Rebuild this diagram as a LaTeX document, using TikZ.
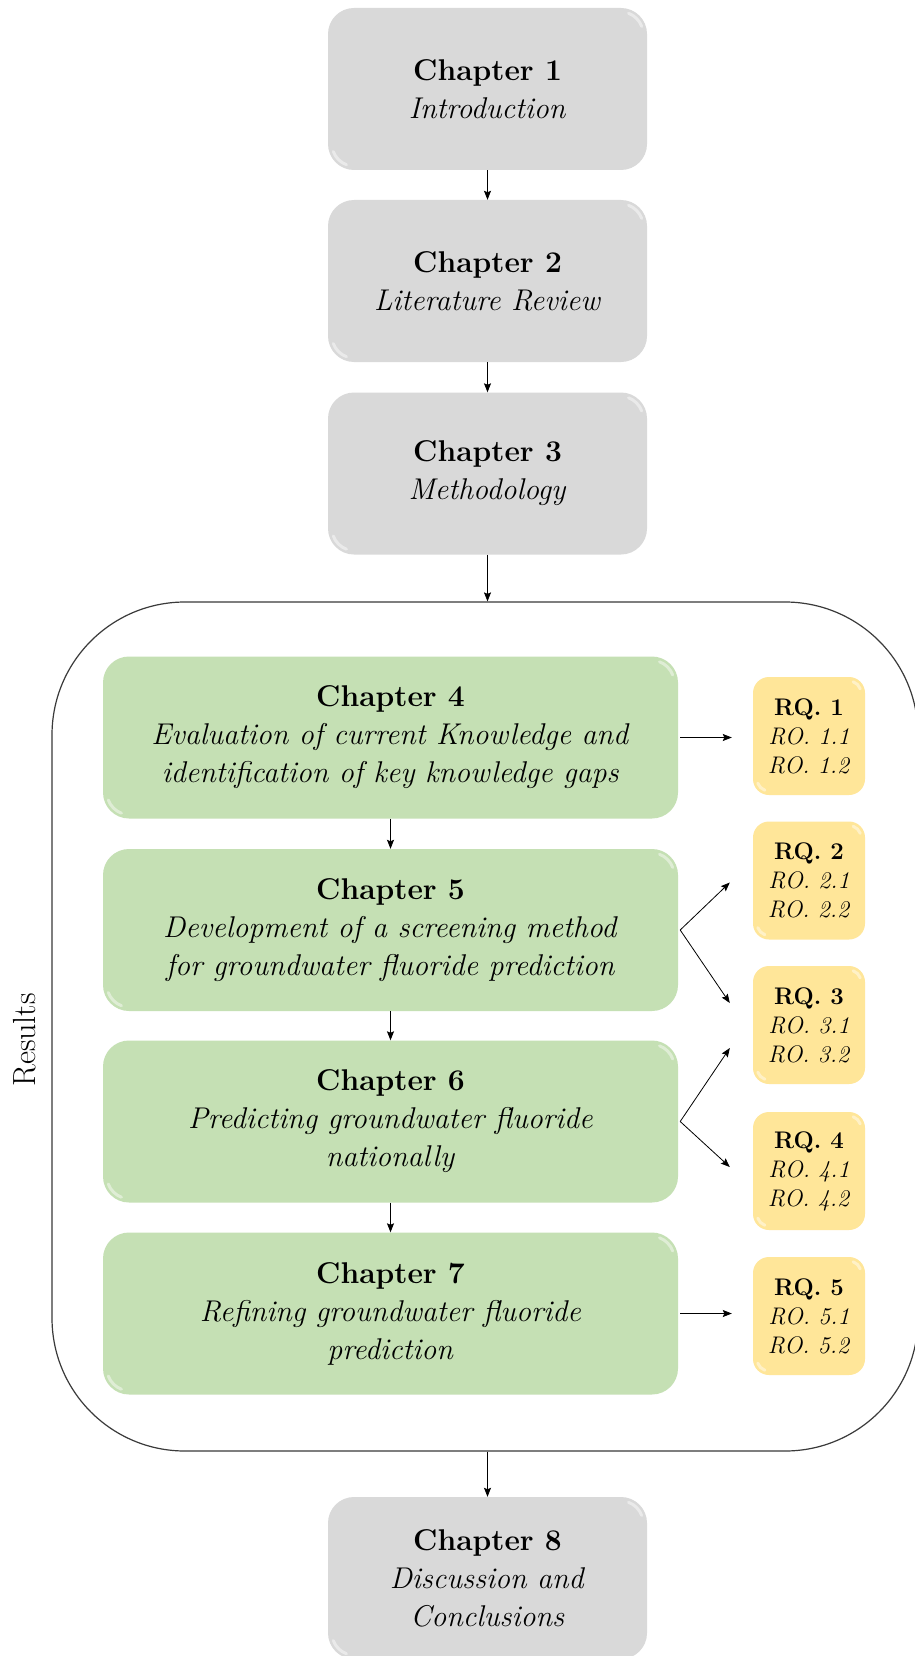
\documentclass[tikz,border=0pt]{standalone}
\usepackage{fontspec}
\usetikzlibrary{arrows.meta}
\definecolor{chgray}{HTML}{D9D9D9}
\definecolor{chgreen}{HTML}{C5E0B4}
\definecolor{rqyellow}{HTML}{FFE699}
\definecolor{framegray}{HTML}{3A3A3A}
\tikzset{
  bevel/.style={path picture={
    \draw[x=1pt,y=1pt,white,opacity=.45,line width=3pt,line cap=round]
      ([xshift=-#1pt,yshift=-#1pt]path picture bounding box.north east)
      ++(70:#1-4) arc[start angle=70,end angle=20,radius=#1-4];
    \draw[x=1pt,y=1pt,white,opacity=.45,line width=3pt,line cap=round]
      ([xshift=#1pt,yshift=#1pt]path picture bounding box.south west)
      ++(250:#1-4) arc[start angle=250,end angle=200,radius=#1-4];
  }},
  chapfont/.style={font=\fontsize{30}{38}\selectfont},
  chbox/.style={rectangle, rounded corners=26pt, minimum height=162pt,
    align=center, inner sep=0pt, chapfont, bevel=26},
  graybox/.style={chbox, fill=chgray, minimum width=319pt},
  greenbox/.style={chbox, fill=chgreen, minimum width=575pt},
  rqbox/.style={rectangle, rounded corners=16pt, fill=rqyellow,
    minimum width=112pt, minimum height=118pt, inner sep=0pt, align=center,
    font=\fontsize{24}{29}\selectfont, bevel=16},
  arr/.style={-{Stealth[length=9pt,width=7pt,inset=1.5pt]}, line width=0.8pt, black},
  framebox/.style={rectangle, draw=framegray, line width=1.2pt,
    rounded corners=133pt, inner sep=0pt},
}
\begin{document}
\begin{tikzpicture}[x=1pt,y=-1pt]
\useasboundingbox (0,0) rectangle (914,1656);
\fill[white] (0,0) rectangle (914,1656);

% big frame
\node[framebox, minimum width=866pt, minimum height=849pt] (frame) at (485,1026.5) {};
\node[font=\fontsize{32}{38}\selectfont, rotate=90] (res) at (25,1040) {Results};

% gray chapters
\node[graybox] (c1) at (487.5,89) {\textbf{Chapter 1}\\\textit{Introduction}};
\node[graybox] (c2) at (487.5,281) {\textbf{Chapter 2}\\\textit{Literature Review}};
\node[graybox] (c3) at (487.5,473.5) {\textbf{Chapter 3}\\\textit{Methodology}};
\node[graybox] (c8) at (487.5,1578) {\textbf{Chapter 8}\\\textit{Discussion and}\\\textit{Conclusions}};

% green chapters
\node[greenbox] (c4) at (390.5,737.5) {\textbf{Chapter 4}\\\textit{Evaluation of current Knowledge and}\\\textit{identification of key knowledge gaps}};
\node[greenbox] (c5) at (390.5,930) {\textbf{Chapter 5}\\\textit{Development of a screening method}\\\textit{for groundwater fluoride prediction}};
\node[greenbox] (c6) at (390.5,1121.5) {\textbf{Chapter 6}\\\textit{Predicting groundwater fluoride}\\\textit{nationally}};
\node[greenbox] (c7) at (390.5,1313.5) {\textbf{Chapter 7}\\\textit{Refining groundwater fluoride}\\\textit{prediction}};

% research questions
\node[rqbox] (rq1) at (809,736) {\textbf{RQ. 1}\\\textit{RO. 1.1}\\\textit{RO. 1.2}};
\node[rqbox] (rq2) at (809,880.5) {\textbf{RQ. 2}\\\textit{RO. 2.1}\\\textit{RO. 2.2}};
\node[rqbox] (rq3) at (809,1025) {\textbf{RQ. 3}\\\textit{RO. 3.1}\\\textit{RO. 3.2}};
\node[rqbox] (rq4) at (809,1171) {\textbf{RQ. 4}\\\textit{RO. 4.1}\\\textit{RO. 4.2}};
\node[rqbox] (rq5) at (809,1316) {\textbf{RQ. 5}\\\textit{RO. 5.1}\\\textit{RO. 5.2}};

% vertical connectors
\draw[arr] (c1.south) -- (c2.north);
\draw[arr] (c2.south) -- (c3.north);
\draw[arr] (c3.south) -- (c3.south |- frame.north);
\draw[arr] (c4.south) -- (c5.north);
\draw[arr] (c5.south) -- (c6.north);
\draw[arr] (c6.south) -- (c7.north);
\draw[arr] (frame.south -| c8.north) -- (c8.north);

% connectors to research questions
\draw[arr, shorten >=21pt, shorten <=2pt] (c4.east) -- (c4.east -| rq1.west);
\draw[arr] ([xshift=2pt]c5.east) -- ([xshift=-23pt,yshift=-2pt]rq2.west);
\draw[arr] ([xshift=2pt]c5.east) -- ([xshift=-23pt,yshift=22pt]rq3.west);
\draw[arr] ([xshift=2pt]c6.east) -- ([xshift=-23pt,yshift=-23pt]rq3.west);
\draw[arr] ([xshift=2pt]c6.east) -- ([xshift=-23pt,yshift=4pt]rq4.west);
\draw[arr, shorten >=21pt, shorten <=2pt] (c7.east) -- (c7.east -| rq5.west);
\end{tikzpicture}
\end{document}
